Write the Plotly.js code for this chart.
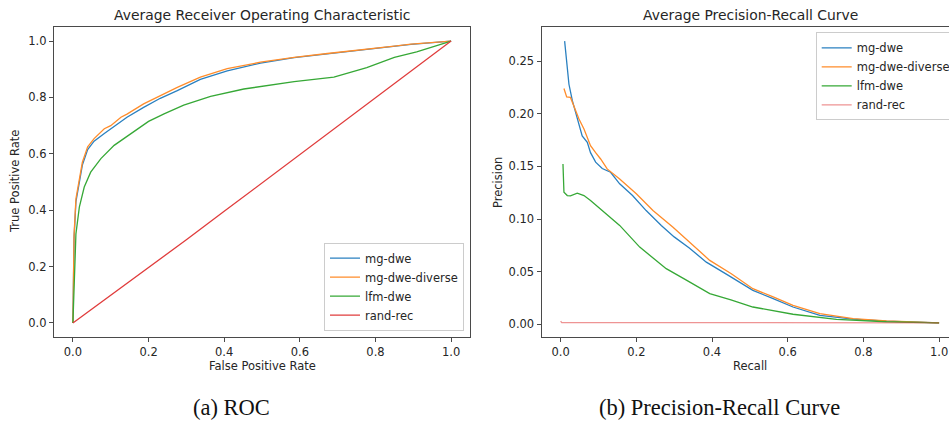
<!DOCTYPE html>
<html><head><meta charset="utf-8">
<script src="https://cdn.plot.ly/plotly-3.0.1.min.js"></script>
<style>html,body{margin:0;padding:0;overflow:hidden;background:#fff;width:949px;height:422px}#chart{width:965px;height:422px}</style>
</head><body><div id="chart"></div><script>
// ---- data ----
const seriesNames = ["mg-dwe", "mg-dwe-diverse", "lfm-dwe", "rand-rec"];

// ROC: false positive rate / true positive rate
const rocMgDweFpr = [0, 0.001, 0.003, 0.008, 0.017, 0.025, 0.039, 0.056, 0.083, 0.1, 0.127, 0.143, 0.187, 0.231, 0.276, 0.337, 0.408, 0.496, 0.585, 0.673, 0.761, 0.85, 0.894, 1.0];
const rocMgDweTpr = [0, 0.15, 0.3, 0.43, 0.5, 0.56, 0.615, 0.645, 0.672, 0.688, 0.713, 0.73, 0.765, 0.797, 0.824, 0.864, 0.894, 0.922, 0.941, 0.955, 0.967, 0.981, 0.988, 1.0];
const rocDiverseFpr = [0, 0.001, 0.003, 0.008, 0.017, 0.025, 0.039, 0.056, 0.083, 0.1, 0.127, 0.143, 0.187, 0.231, 0.276, 0.337, 0.408, 0.496, 0.585, 0.673, 0.761, 0.85, 0.894, 1.0];
const rocDiverseTpr = [0, 0.16, 0.31, 0.44, 0.51, 0.57, 0.625, 0.654, 0.689, 0.70, 0.73, 0.741, 0.777, 0.807, 0.836, 0.872, 0.902, 0.925, 0.942, 0.956, 0.968, 0.982, 0.989, 1.0];
const rocLfmFpr = [0, 0.002, 0.004, 0.008, 0.017, 0.03, 0.047, 0.074, 0.109, 0.153, 0.2, 0.241, 0.293, 0.364, 0.452, 0.585, 0.69, 0.777, 0.85, 0.909, 1.0];
const rocLfmTpr = [0, 0.1, 0.2, 0.316, 0.411, 0.482, 0.535, 0.583, 0.63, 0.671, 0.715, 0.742, 0.773, 0.804, 0.830, 0.856, 0.872, 0.906, 0.942, 0.962, 1.0];
const rocRandFpr = [0, 0.1, 0.2, 0.3, 0.4, 0.5, 0.6, 0.7, 0.8, 0.9, 1.0];
const rocRandTpr = [0, 0.098, 0.198, 0.295, 0.396, 0.497, 0.598, 0.699, 0.80, 0.90, 1.0];

// Precision-Recall
const prMgDweRecall = [0.0106, 0.016, 0.022, 0.031, 0.040, 0.0485, 0.057, 0.0705, 0.079, 0.0925, 0.11, 0.132, 0.156, 0.19, 0.226, 0.266, 0.3, 0.34, 0.385, 0.44, 0.508, 0.56, 0.614, 0.685, 0.73, 0.773, 0.861, 0.93, 1.0];
const prMgDwePrec = [0.269, 0.2455, 0.228, 0.2124, 0.2013, 0.1887, 0.179, 0.1728, 0.163, 0.154, 0.148, 0.1444, 0.1334, 0.1223, 0.108, 0.0939, 0.083, 0.0724, 0.059, 0.0471, 0.0322, 0.0246, 0.0164, 0.0085, 0.0063, 0.0048, 0.003, 0.002, 0.0013];
const prDiverseRecall = [0.0088, 0.016, 0.026, 0.035, 0.0485, 0.0617, 0.079, 0.0925, 0.1057, 0.123, 0.156, 0.2, 0.244, 0.297, 0.34, 0.394, 0.45, 0.508, 0.56, 0.614, 0.685, 0.773, 0.861, 0.93, 1.0];
const prDiversePrec = [0.224, 0.216, 0.2155, 0.2076, 0.195, 0.1855, 0.1697, 0.163, 0.157, 0.1476, 0.1381, 0.124, 0.108, 0.0922, 0.0782, 0.0607, 0.0482, 0.0338, 0.0262, 0.018, 0.0101, 0.0054, 0.0032, 0.002, 0.0013];
const prLfmRecall = [0.0062, 0.0088, 0.0176, 0.026, 0.044, 0.0617, 0.079, 0.1057, 0.132, 0.156, 0.209, 0.279, 0.33, 0.394, 0.45, 0.508, 0.614, 0.729, 0.861, 1.0];
const prLfmPrec = [0.1523, 0.1254, 0.1223, 0.122, 0.1245, 0.1223, 0.1176, 0.1097, 0.1017, 0.0939, 0.0733, 0.0528, 0.0424, 0.0291, 0.0232, 0.0164, 0.0095, 0.0047, 0.0024, 0.0013];
const prRandRecall = [0, 0.003, 0.25, 0.5, 0.75, 1.0];
const prRandPrec = [0.003, 0.0016, 0.0016, 0.0015, 0.0015, 0.0014];

// ---- styling ----
const colors = ["#2a80c0", "#ff8c2a", "#36a836", "#e03c3c"];
const W = 965, H = 422;
const FONT = "DejaVu Sans";
const TXT = "#262626";
const AX = "#4a4a4a";

function line(x, y, i, xa, ya, leg, extra) {
  return Object.assign({
    type: "scatter", mode: "lines", x: x, y: y, name: seriesNames[i],
    xaxis: xa, yaxis: ya, legend: leg,
    line: {color: colors[i], width: 1.3}, hoverinfo: "skip"
  }, extra || {});
}

const traces = [
  line(rocMgDweFpr, rocMgDweTpr, 0, "x", "y", "legend"),
  line(rocDiverseFpr, rocDiverseTpr, 1, "x", "y", "legend"),
  line(rocLfmFpr, rocLfmTpr, 2, "x", "y", "legend"),
  line(rocRandFpr, rocRandTpr, 3, "x", "y", "legend"),
  line(prMgDweRecall, prMgDwePrec, 0, "x2", "y2", "legend2"),
  line(prDiverseRecall, prDiversePrec, 1, "x2", "y2", "legend2"),
  line(prLfmRecall, prLfmPrec, 2, "x2", "y2", "legend2"),
  line(prRandRecall, prRandPrec, 3, "x2", "y2", "legend2", {opacity: 0.55})
];

function axis(extra) {
  return Object.assign({
    showline: true, mirror: true, linecolor: AX, linewidth: 1.2,
    ticks: "outside", ticklen: 4, tickwidth: 1, tickcolor: AX,
    showgrid: false, zeroline: false, fixedrange: true,
    tickfont: {family: FONT, size: 11.5, color: TXT}
  }, extra);
}

const yDom = [1 - 337 / H, 1 - 27 / H];
const legendStyle = {
  bgcolor: "rgba(255,255,255,0.8)", bordercolor: "#cccccc", borderwidth: 1,
  font: {family: FONT, size: 11.5, color: TXT}, traceorder: "normal"
};

function ann(text, x, y, size, extra) {
  return Object.assign({
    text: text, xref: "paper", yref: "paper", x: x / W, y: 1 - y / H,
    xanchor: "center", yanchor: "middle", showarrow: false,
    font: {family: FONT, size: size, color: TXT}
  }, extra || {});
}

const capFont = {family: "Liberation Serif", size: 22.5, color: "#111"};

const layout = {
  width: W, height: H,
  margin: {l: 0, r: 0, t: 0, b: 0, autoexpand: false},
  paper_bgcolor: "#ffffff", plot_bgcolor: "#ffffff",
  showlegend: true,
  xaxis: axis({domain: [54 / W, 470 / W], range: [-0.05, 1.05], anchor: "y", tick0: 0, dtick: 0.2, tickformat: ".1f"}),
  yaxis: axis({domain: yDom, range: [-0.05, 1.05], anchor: "x", tick0: 0, dtick: 0.2, tickformat: ".1f"}),
  xaxis2: axis({domain: [541.7 / W, 958 / W], range: [-0.05, 1.05], anchor: "y2", tick0: 0, dtick: 0.2, tickformat: ".1f"}),
  yaxis2: axis({domain: yDom, range: [-0.0121, 0.2824], anchor: "x2", tick0: 0, dtick: 0.05, tickformat: ".2f"}),
  legend: Object.assign({x: 464 / W, xanchor: "right", y: 1 - 330.7 / H, yanchor: "bottom"}, legendStyle),
  legend2: Object.assign({x: 815.7 / W, xanchor: "left", y: 1 - 32.3 / H, yanchor: "top"}, legendStyle),
  annotations: [
    ann("Average Receiver Operating Characteristic", 262, 15, 13.9),
    ann("Average Precision-Recall Curve", 750, 15, 13.9),
    ann("False Positive Rate", 262, 366, 11.5),
    ann("Recall", 750, 366, 11.5),
    ann("True Positive Rate", 15, 182, 11.5, {textangle: -90}),
    ann("Precision", 498, 182, 11.5, {textangle: -90}),
    ann("(a) ROC", 231.7, 407, 22.5, {font: capFont}),
    ann("(b) Precision-Recall Curve", 719.2, 407, 22.5, {font: capFont})
  ]
};

Plotly.newPlot("chart", traces, layout, {staticPlot: true, displayModeBar: false});
</script></body></html>
